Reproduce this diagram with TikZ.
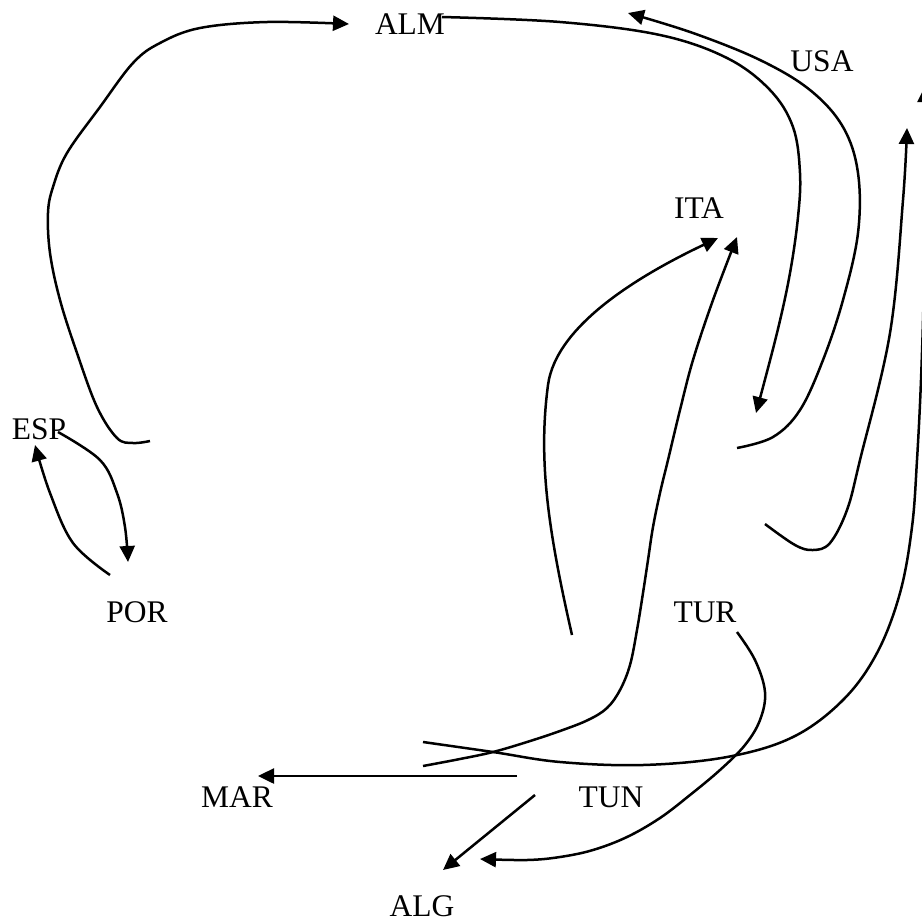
\documentclass[tikz,border=0pt]{standalone}
\usepackage{fontspec}
\setmainfont{Liberation Serif}
\usetikzlibrary{arrows.meta}
\begin{document}
\begin{tikzpicture}[x=1pt,y=-1pt,
  lbl/.style={inner sep=0pt,font=\fontsize{31.5}{36}\selectfont},
  ln/.style={line width=2.5pt,line cap=butt},
  arr/.style={ln,-{Triangle[length=16pt,width=15pt]}},
  sm/.style={smooth,tension=0.6}]
\useasboundingbox[fill=white] (0,0) rectangle (922,922);
% labels
\node[lbl] (ALM) at (410,24) {ALM};
\node[lbl] (USA) at (822,61) {USA};
\node[lbl] (ITA) at (699,208) {ITA};
\node[lbl] (ESP) at (39,429) {ESP};
\node[lbl] (POR) at (137,612) {POR};
\node[lbl] (TUR) at (705,612) {TUR};
\node[lbl] (MAR) at (237,797) {MAR};
\node[lbl] (TUN) at (611,797) {TUN};
\node[lbl] (ALG) at (422,906) {ALG};
% free ends
\coordinate (a0) at (150,441);   \coordinate (a1) at (349,24);
\coordinate (b0) at (442,17);    \coordinate (b1) at (756,413);
\coordinate (c0) at (737,448);   \coordinate (c1) at (628,13);
\coordinate (d0) at (765,524);   \coordinate (d1) at (907,128);
\coordinate (e0) at (423,742);   \coordinate (e1) at (925,86);
\coordinate (f0) at (572,635);   \coordinate (f1) at (718,238);
\coordinate (g0) at (423,766);   \coordinate (g1) at (737,237);
\coordinate (h0) at (517,776);   \coordinate (h1) at (258,776);
\coordinate (i0) at (535,795);   \coordinate (i1) at (443,870);
\coordinate (j0) at (737,632);   \coordinate (j1) at (480,859);
\coordinate (k0) at (58,432);    \coordinate (k1) at (128,562);
\coordinate (l0) at (110,575);   \coordinate (l1) at (35,445);
% connectors
\draw[arr] plot[sm] coordinates {(a0) (133,443) (117,438) (97,407) (77,353) (60,300) (50,253) (48,213) (53,187) (67,153) (100,107) (133,63) (160,43) (200,28) (267,22) (a1)};
\draw[arr] plot[sm] coordinates {(b0) (560,22) (660,35) (727,58) (770,90) (793,127) (800,173) (798,217) (790,273) (777,333) (b1)};
\draw[arr] plot[sm] coordinates {(c0) (773,437) (800,410) (823,360) (843,300) (858,233) (858,173) (843,127) (810,90) (760,60) (693,33) (c1)};
\draw[arr] plot[sm] coordinates {(d0) (795,545) (813,550) (830,543) (847,510) (860,460) (890,333) (903,200) (d1)};
\draw[arr] plot[sm] coordinates {(e0) (493,752) (560,762) (643,765) (727,757) (793,737) (843,700) (877,653) (900,593) (912,527) (917,460) (921,380) (924,280) (925,180) (e1)};
\draw[arr] (f0) .. controls (548,530) and (538,460) .. (548,385)
                .. controls (556,325) and (640,275) .. (f1);
\draw[arr] plot[sm] coordinates {(g0) (460,759) (493,752) (527,742) (560,731) (588,720) (607,708) (620,690) (630,665) (637,630) (643,593) (648,560) (653,527) (660,493) (668,460) (680,410) (693,360) (713,300) (g1)};
\draw[arr] (h0) -- (h1);
\draw[arr] (i0) -- (i1);
\draw[arr] plot[sm] coordinates {(j0) (755,660) (765,692) (760,720) (745,745) (720,770) (690,795) (660,818) (627,837) (593,850) (560,857) (527,860) (j1)};
\draw[arr] plot[sm] coordinates {(k0) (100,460) (117,493) (125,527) (k1)};
\draw[arr] plot[sm] coordinates {(l0) (73,543) (50,493) (l1)};
\end{tikzpicture}
\end{document}
